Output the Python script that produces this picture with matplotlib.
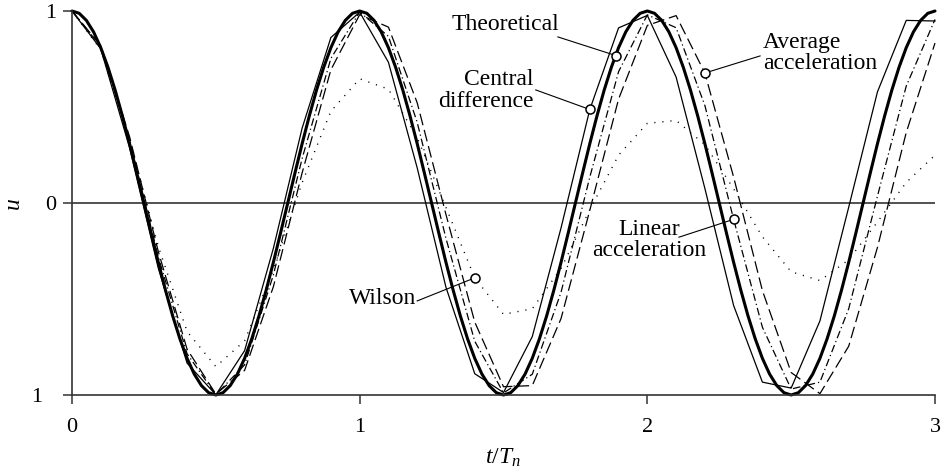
import numpy as np
import matplotlib
matplotlib.use('Agg')
import matplotlib.pyplot as plt
from matplotlib.transforms import ScaledTranslation

plt.rcParams['font.family'] = ['Liberation Serif', 'DejaVu Serif']
plt.rcParams['mathtext.fontset'] = 'custom'
plt.rcParams['mathtext.rm'] = 'Liberation Serif'
plt.rcParams['mathtext.it'] = 'Liberation Serif:italic'
plt.rcParams['lines.scale_dashes'] = False

# ---------------- data ----------------
dt_theory = 0.025   # sampling of the theoretical curve (t/Tn)
dt_num = 0.1        # time step of the numerical solutions (t/Tn)

theoretical = [
    1.000, 0.988, 0.951, 0.891, 0.809, 0.707, 0.588, 0.454, 0.309, 0.156,
    0.000, -0.156, -0.309, -0.454, -0.588, -0.707, -0.809, -0.891, -0.951, -0.988,
    -1.000, -0.988, -0.951, -0.891, -0.809, -0.707, -0.588, -0.454, -0.309, -0.156,
    0.000, 0.156, 0.309, 0.454, 0.588, 0.707, 0.809, 0.891, 0.951, 0.988,
    1.000, 0.988, 0.951, 0.891, 0.809, 0.707, 0.588, 0.454, 0.309, 0.156,
    0.000, -0.156, -0.309, -0.454, -0.588, -0.707, -0.809, -0.891, -0.951, -0.988,
    -1.000, -0.988, -0.951, -0.891, -0.809, -0.707, -0.588, -0.454, -0.309, -0.156,
    0.000, 0.156, 0.309, 0.454, 0.588, 0.707, 0.809, 0.891, 0.951, 0.988,
    1.000, 0.988, 0.951, 0.891, 0.809, 0.707, 0.588, 0.454, 0.309, 0.156,
    0.000, -0.156, -0.309, -0.454, -0.588, -0.707, -0.809, -0.891, -0.951, -0.988,
    -1.000, -0.988, -0.951, -0.891, -0.809, -0.707, -0.588, -0.454, -0.309, -0.156,
    0.000, 0.156, 0.309, 0.454, 0.588, 0.707, 0.809, 0.891, 0.951, 0.988,
    1.000,
]

central_difference = [
    1.000, 0.803, 0.288, -0.340, -0.834, -0.999, -0.769, -0.236, 0.390, 0.862,
    0.994, 0.733, 0.183, -0.439, -0.889, -0.987, -0.696, -0.130, 0.487, 0.912,
    0.977, 0.656, 0.076, -0.534, -0.933, -0.964, -0.614, -0.022, 0.579, 0.951,
    0.948,
]

average_acceleration = [
    1.000, 0.820, 0.346, -0.253, -0.761, -0.995, -0.872, -0.436, 0.157, 0.694,
    0.981, 0.916, 0.522, -0.060, -0.620, -0.957, -0.951, -0.602, -0.038, 0.541,
    0.925, 0.976, 0.677, 0.135, -0.456, -0.883, -0.993, -0.746, -0.231, 0.367,
    0.833,
]

linear_acceleration = [
    1.000, 0.815, 0.328, -0.281, -0.785, -0.999, -0.843, -0.375, 0.232, 0.753,
    0.995, 0.868, 0.420, -0.184, -0.720, -0.989, -0.892, -0.465, 0.135, 0.684,
    0.980, 0.913, 0.508, -0.085, -0.647, -0.969, -0.933, -0.551, 0.036, 0.609,
    0.956,
]

wilson = [
    1.000, 0.798, 0.329, -0.226, -0.669, -0.852, -0.718, -0.348, 0.106, 0.478,
    0.647, 0.593, 0.340, -0.023, -0.390, -0.580, -0.551, -0.341, -0.035, 0.249,
    0.415, 0.430, 0.304, 0.074, -0.176, -0.358, -0.404, -0.296, -0.099, 0.107,
    0.249,
]

x_ticks = [0, 1, 2, 3]
x_tick_labels = ['0', '1', '2', '3']
y_ticks = [1, 0, -1]
y_tick_labels = ['1', '0', '1']

t_theory = np.arange(len(theoretical)) * dt_theory
t_num = np.arange(len(central_difference)) * dt_num

# ---------------- figure ----------------
W, H = 945, 475
fig = plt.figure(figsize=(W / 100, H / 100), dpi=100)
ax = fig.add_axes([72 / W, 80 / H, 863 / W, 384 / H])

ax.plot(t_num, wilson, color='black', lw=1.0, dashes=(0.8, 5.0), clip_on=False)
ax.plot(t_num, average_acceleration, color='black', lw=0.9, dashes=(8.5, 3.5), clip_on=False)
ax.plot(t_num, linear_acceleration, color='black', lw=0.9, dashes=(5.5, 2.2, 0.9, 2.2), clip_on=False)
ax.plot(t_num, central_difference, color='black', lw=0.9, clip_on=False)
ax.plot(t_theory, theoretical, color='black', lw=2.2, clip_on=False, solid_capstyle='round')

ax.axhline(0, color='#222222', lw=1.1, zorder=0.5)

ax.set_xlim(0, 3)
ax.set_ylim(-1, 1)
for s in ('top', 'right'):
    ax.spines[s].set_visible(False)
for s in ('left', 'bottom'):
    ax.spines[s].set_color('#333333')
    ax.spines[s].set_linewidth(1.2)

ax.set_xticks(x_ticks)
ax.set_xticklabels(x_tick_labels)
ax.set_yticks(y_ticks)
ax.set_yticklabels(y_tick_labels)
ax.tick_params(direction='out', length=6.5, width=1.1, color='#333333', labelsize=16)
ax.tick_params(axis='x', pad=10)
ax.tick_params(axis='y', pad=5)
# bottom y label sits further left in the reference
lab = ax.get_yticklabels()[-1]
lab.set_transform(lab.get_transform() + ScaledTranslation(-0.14, 0, fig.dpi_scale_trans))

fig.text(13 / W, 1 - 203 / H, 'u', rotation=90, ha='center', va='center',
         fontsize=17, style='italic')
fig.text(503 / W, 1 - 447 / H, r'$t/T_n$', ha='center', va='top', fontsize=17)

# ---------------- annotations ----------------
fs = 17


def note(label, xy, start, txt, ha, ma='center'):
    ax.plot([start[0], xy[0]], [start[1], xy[1]], color='black', lw=0.8, clip_on=False, zorder=5)
    ax.plot([xy[0]], [xy[1]], marker='o', ms=6.5, mfc='white', mec='black', mew=1.1,
            clip_on=False, zorder=6)
    ax.text(txt[0], txt[1], label, ha=ha, va='center', multialignment=ma,
            fontsize=fs, linespacing=1.05, zorder=7)


t_mark = 1.89
note('Theoretical', (t_mark, np.interp(t_mark, t_theory, theoretical)),
     (1.689, 0.865), (1.505, 0.930), 'center')
note('Central\ndifference', (t_num[18], central_difference[18]),
     (1.612, 0.589), (1.603, 0.585), 'right', 'right')
note('Average\nacceleration', (t_num[22], average_acceleration[22]),
     (2.392, 0.766), (2.402, 0.781), 'left', 'left')
note('Linear\nacceleration', (t_num[23], linear_acceleration[23]),
     (2.110, -0.178), (2.006, -0.193), 'center')
note('Wilson', (t_num[14], wilson[14]),
     (1.200, -0.51), (1.081, -0.495), 'center')

fig.savefig('out.png', dpi=100)
